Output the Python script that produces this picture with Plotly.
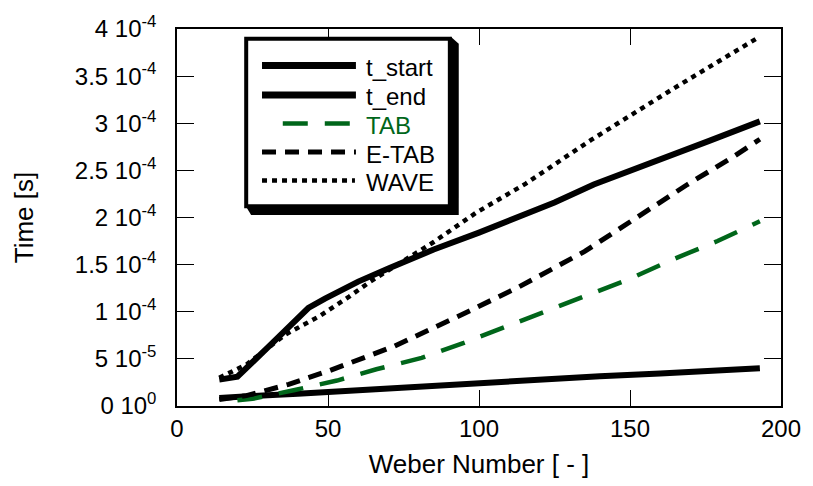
import plotly.graph_objects as go

# ---- data (Weber number vs time in seconds) ----
we_start = [14, 20, 30, 40, 50, 60, 80, 100, 120, 140, 160, 180, 193]
t_start = [0.85e-5, 1.0e-5, 1.15e-5, 1.3e-5, 1.5e-5, 1.7e-5, 2.1e-5, 2.45e-5, 2.8e-5, 3.15e-5, 3.45e-5, 3.75e-5, 4.0e-5]

we_end = [14, 20, 30, 43.5, 49, 60, 70, 85, 100, 111, 125, 138, 150, 165, 176, 193]
t_end = [2.8e-5, 3.1e-5, 6.2e-5, 10.4e-5, 11.4e-5, 13.2e-5, 14.6e-5, 16.6e-5, 18.4e-5, 19.8e-5, 21.6e-5, 23.5e-5, 25.0e-5, 26.8e-5, 28.1e-5, 30.2e-5]

we_tab = [20, 25, 39, 53, 66, 81, 95, 109, 123, 136, 150, 164.5, 179, 193]
t_tab = [0.6e-5, 0.76e-5, 1.7e-5, 2.7e-5, 3.9e-5, 5.1e-5, 6.7e-5, 8.45e-5, 10.2e-5, 11.8e-5, 13.5e-5, 15.6e-5, 17.5e-5, 19.6e-5]

we_etab = [14, 23, 37, 50, 65, 72, 93, 100, 113, 135, 156, 169, 184, 193]
t_etab = [0.7e-5, 1.1e-5, 2.3e-5, 3.7e-5, 5.5e-5, 6.35e-5, 9.5e-5, 10.6e-5, 12.6e-5, 16.4e-5, 20.7e-5, 23.5e-5, 26.4e-5, 28.3e-5]

we_wave = [14, 19.5, 23, 36, 47, 57, 64, 85, 99, 115.5, 137, 164.5, 193]
t_wave = [3.0e-5, 3.8e-5, 4.4e-5, 7.6e-5, 9.5e-5, 11.6e-5, 13.2e-5, 17.4e-5, 20.5e-5, 23.6e-5, 28.2e-5, 33.7e-5, 39.2e-5]

y_tickvals = [0, 5e-5, 1e-4, 1.5e-4, 2e-4, 2.5e-4, 3e-4, 3.5e-4, 4e-4]
y_ticktext = ["0 10<sup>0</sup>", "5 10<sup>-5</sup>", "1 10<sup>-4</sup>", "1.5 10<sup>-4</sup>",
              "2 10<sup>-4</sup>", "2.5 10<sup>-4</sup>", "3 10<sup>-4</sup>", "3.5 10<sup>-4</sup>",
              "4 10<sup>-4</sup>"]
x_tickvals = [0, 50, 100, 150, 200]

series_names = ["t_start", "t_end", "TAB", "E-TAB", "WAVE"]

FONT = "Liberation Sans, Arial, sans-serif"
GREEN = "#00661a"

styles = [
    dict(color="black", width=6),
    dict(color="black", width=6),
    dict(color=GREEN, width=4.5, dash="25px,17px"),
    dict(color="black", width=5, dash="14px,9px"),
    dict(color="black", width=4.5, dash="5px,5px"),
]
xs = [we_start, we_end, we_tab, we_etab, we_wave]
ys = [t_start, t_end, t_tab, t_etab, t_wave]

fig = go.Figure()
for name, x, y, st in zip(series_names, xs, ys, styles):
    fig.add_trace(go.Scatter(x=x, y=y, mode="lines", name=name, line=st, showlegend=False))

# ---- hand-drawn boxed legend with drop shadow (paper coordinates) ----
L, T, W, H = 177, 26, 611, 383


def px(v):
    return (v - L) / W


def py(v):
    return (T + H - v) / H


# shadow
fig.add_shape(type="path", xref="paper", yref="paper", layer="above",
              path=(f"M {px(246)},{py(205)} L {px(252)},{py(215)} L {px(462)},{py(215)} "
                    f"L {px(462)},{py(41)} L {px(454)},{py(34)} Z"),
              fillcolor="black", line=dict(width=0))
# box
fig.add_shape(type="rect", xref="paper", yref="paper", layer="above",
              x0=px(247), x1=px(453), y0=py(206), y1=py(36),
              fillcolor="white", line=dict(color="black", width=4))

row_y = [63, 93, 122, 151, 180]
sample_x = [(263, 358), (263, 358), (284, 355), (263, 358), (263, 357)]
text_colors = ["black", "black", GREEN, "black", "black"]
for name, st, ry, (sx0, sx1), tc in zip(series_names, styles, row_y, sample_x, text_colors):
    fig.add_shape(type="line", xref="paper", yref="paper", layer="above",
                  x0=px(sx0), x1=px(sx1), y0=py(ry), y1=py(ry),
                  line=dict(color=st["color"], width=st["width"] if "dash" in st else 7,
                            dash=st.get("dash", "solid")))
    fig.add_annotation(xref="paper", yref="paper", x=px(366), y=py(ry + 2),
                       xanchor="left", yanchor="middle", showarrow=False, text=name,
                       font=dict(family=FONT, size=24, color=tc))

fig.update_layout(
    width=813, height=486,
    margin=dict(l=L, r=813 - L - W, t=T, b=486 - T - H),
    paper_bgcolor="white", plot_bgcolor="white",
    font=dict(family=FONT, size=24, color="black"),
    showlegend=False,
    xaxis=dict(range=[0, 200], tickvals=x_tickvals, ticks="inside", ticklen=16,
               tickwidth=1, tickcolor="black", showline=True, linecolor="black",
               linewidth=1.5, mirror="ticks", showgrid=False, zeroline=False,
               tickfont=dict(size=24),
               title=dict(text="Weber Number [ - ]", font=dict(size=26), standoff=14)),
    yaxis=dict(range=[0, 4e-4], tickvals=y_tickvals, ticktext=y_ticktext,
               ticks="inside", ticklen=17, tickwidth=1, tickcolor="black",
               showline=True, linecolor="black", linewidth=1.5, mirror="ticks",
               showgrid=False, zeroline=False, tickfont=dict(size=24),
               ticklabelstandoff=14,
               title=dict(text="Time [s]", font=dict(size=26), standoff=34)),
)

fig.write_html("out.html")
